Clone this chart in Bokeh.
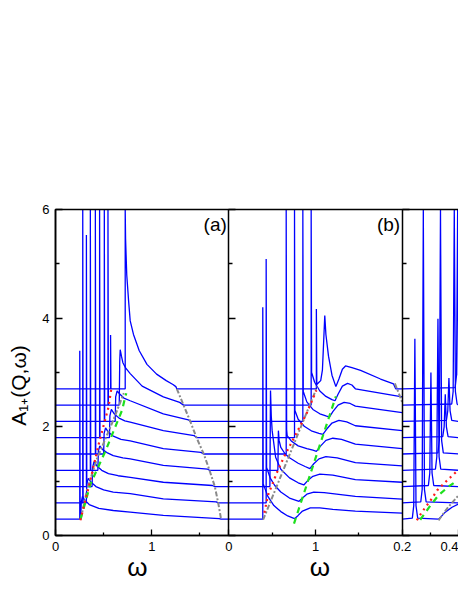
import math
from bokeh.plotting import figure
from bokeh.models import Range1d, FixedTicker, LinearAxis, Label, BoxAnnotation
from bokeh.embed import file_html
from bokeh.resources import INLINE

# ---------------- data (omega, A); spikes run off the top (6) ----------------
PANEL_A_W = [
    [0, 0.252, 0.252, 0.256, 0.262, 0.268, 0.28, 0.30, 0.35, 0.45, 0.6, 0.776, 1.12, 1.70, 1.72, 1.8],
    [0, 0.283, 0.283, 0.287, 0.32, 0.325, 0.34, 0.37, 0.42, 0.5, 0.6, 0.776, 1.12, 1.67, 1.69, 1.8],
    [0, 0.321, 0.321, 0.325, 0.38, 0.385, 0.40, 0.43, 0.48, 0.55, 0.65, 0.776, 1.12, 1.63, 1.655, 1.8],
    [0, 0.362, 0.362, 0.366, 0.44, 0.445, 0.46, 0.49, 0.54, 0.6, 0.7, 0.776, 1.12, 1.58, 1.60, 1.8],
    [0, 0.414, 0.414, 0.418, 0.50, 0.505, 0.52, 0.55, 0.60, 0.68, 0.776, 1.12, 1.51, 1.54, 1.8],
    [0, 0.458, 0.458, 0.462, 0.56, 0.565, 0.58, 0.61, 0.66, 0.72, 0.776, 1.12, 1.44, 1.465, 1.8],
    [0, 0.507, 0.507, 0.511, 0.62, 0.625, 0.64, 0.67, 0.71, 0.776, 1.12, 1.38, 1.40, 1.8],
    [0, 0.545, 0.545, 0.549, 0.662, 0.667, 0.672, 0.685, 0.70, 0.73, 0.776, 0.9, 1.12, 1.29, 1.33, 1.8],
    [0, 0.572, 0.572, 0.576, 0.724, 0.724, 0.728, 0.74, 0.76, 0.776, 0.81, 0.87, 0.95, 1.05, 1.15, 1.22, 1.25, 1.26, 1.8],
]
PANEL_A_V = [
    [0.3, 0.3, 3.4, 0.3, 0.3, 0.62, 0.72, 0.66, 0.57, 0.50, 0.46, 0.43, 0.37, 0.31, 0.3, 0.3],
    [0.6, 0.6, 6.0, 0.6, 0.6, 0.95, 1.05, 0.98, 0.90, 0.84, 0.80, 0.77, 0.675, 0.62, 0.6, 0.6],
    [0.9, 0.9, 5.53, 0.9, 0.9, 1.25, 1.36, 1.28, 1.20, 1.14, 1.10, 1.07, 0.98, 0.92, 0.9, 0.9],
    [1.2, 1.2, 6.0, 1.2, 1.2, 1.55, 1.65, 1.58, 1.52, 1.47, 1.43, 1.41, 1.29, 1.22, 1.2, 1.2],
    [1.5, 1.5, 6.0, 1.5, 1.5, 1.88, 1.98, 1.90, 1.83, 1.77, 1.74, 1.60, 1.53, 1.5, 1.5],
    [1.8, 1.8, 6.0, 1.8, 1.8, 2.2, 2.32, 2.24, 2.16, 2.11, 2.085, 1.93, 1.84, 1.8, 1.8],
    [2.1, 2.1, 6.0, 2.1, 2.1, 2.55, 2.66, 2.60, 2.53, 2.48, 2.24, 2.13, 2.1, 2.1],
    [2.4, 2.4, 6.0, 2.4, 2.4, 3.2, 3.42, 3.3, 3.18, 3.08, 2.98, 2.75, 2.55, 2.45, 2.4, 2.4],
    [2.7, 2.7, 3.69, 2.7, 2.7, 6.0, 5.45, 4.8, 4.3, 3.95, 3.7, 3.4, 3.15, 2.97, 2.85, 2.78, 2.74, 2.7, 2.7],
]
RED_A_W = [0.258, 0.345, 0.45, 0.55, 0.578]
RED_A_V = [0.28, 0.89, 1.69, 2.36, 2.68]
GRAY_A_LOW_W = [0.262, 0.33, 0.43, 0.6, 0.71]
GRAY_A_LOW_V = [0.3, 0.86, 1.41, 2.12, 2.62]
GREEN_A_W = [0.26, 0.364, 0.52, 0.69, 0.735]
GREEN_A_V = [0.3, 0.95, 1.56, 2.3, 2.62]
GRAY_A_UP_W = [1.26, 1.33, 1.40, 1.465, 1.54, 1.60, 1.655, 1.69, 1.72]
GRAY_A_UP_V = [2.7, 2.4, 2.1, 1.8, 1.5, 1.2, 0.9, 0.6, 0.3]

PANEL_B_W = [
    [0, 0.392, 0.392, 0.397, 0.45, 0.52, 0.6, 0.68, 0.758, 0.80, 0.85, 0.94, 1.05, 1.2, 1.46, 2.0],
    [0, 0.431, 0.431, 0.436, 0.48, 0.53, 0.6, 0.7, 0.81, 0.85, 0.9, 0.98, 1.1, 1.46, 2.0],
    [0, 0.474, 0.481, 0.49, 0.50, 0.54, 0.6, 0.7, 0.8, 0.865, 0.91, 0.97, 1.05, 1.2, 1.46, 2.0],
    [0, 0.566, 0.572, 0.58, 0.6, 0.65, 0.7, 0.8, 0.88, 0.935, 0.98, 1.04, 1.12, 1.25, 1.46, 2.0],
    [0, 0.662, 0.662, 0.667, 0.673, 0.72, 0.8, 0.9, 0.97, 1.01, 1.06, 1.12, 1.2, 1.3, 1.46, 2.0],
    [0, 0.758, 0.758, 0.763, 0.8, 0.87, 0.96, 1.04, 1.085, 1.13, 1.19, 1.27, 1.36, 1.46, 2.0],
    [0, 0.854, 0.854, 0.859, 0.9, 0.97, 1.05, 1.12, 1.16, 1.2, 1.26, 1.33, 1.4, 1.46, 2.0],
    [0, 0.95, 0.95, 0.955, 0.99, 1.05, 1.12, 1.19, 1.225, 1.26, 1.31, 1.37, 1.42, 1.46, 2.0],
    [0, 1.01, 1.01, 1.015, 1.04, 1.06, 1.08, 1.095, 1.107, 1.12, 1.15, 1.19, 1.235, 1.27, 1.31, 1.346, 1.42, 1.52, 1.75, 1.9, 1.925, 2.0],
]
PANEL_B_V = [
    [0.3, 0.3, 4.2, 0.95, 0.72, 0.55, 0.44, 0.36, 0.31, 0.37, 0.45, 0.51, 0.51, 0.48, 0.45, 0.41],
    [0.6, 0.6, 5.09, 1.25, 1.05, 0.92, 0.8, 0.69, 0.63, 0.69, 0.76, 0.8, 0.79, 0.72, 0.67],
    [0.9, 0.9, 2.67, 2.2, 1.93, 1.44, 1.22, 1.06, 0.97, 0.93, 1.01, 1.09, 1.13, 1.11, 1.03, 0.98],
    [1.2, 1.2, 1.93, 1.75, 1.62, 1.5, 1.43, 1.33, 1.27, 1.23, 1.32, 1.41, 1.45, 1.43, 1.34, 1.28],
    [1.5, 1.5, 6.0, 1.95, 1.84, 1.74, 1.65, 1.6, 1.57, 1.55, 1.65, 1.75, 1.79, 1.77, 1.68, 1.6],
    [1.8, 1.8, 6.0, 2.3, 2.14, 2.01, 1.92, 1.88, 1.86, 1.96, 2.07, 2.12, 2.09, 2.02, 1.93],
    [2.1, 2.1, 6.0, 2.65, 2.46, 2.32, 2.24, 2.2, 2.18, 2.28, 2.4, 2.45, 2.43, 2.38, 2.26],
    [2.4, 2.4, 6.0, 3.0, 2.82, 2.66, 2.56, 2.5, 2.48, 2.6, 2.75, 2.8, 2.77, 2.7, 2.55],
    [2.7, 2.7, 4.17, 2.78, 2.82, 2.85, 3.05, 3.6, 4.05, 3.7, 3.3, 2.95, 2.74, 2.88, 3.06, 3.12, 3.09, 3.04, 2.88, 2.79, 2.7, 2.7],
]
RED_B_W = [0.41, 0.454, 0.558, 0.635, 0.896, 1.01]
RED_B_V = [0.42, 0.75, 1.17, 1.44, 2.24, 2.67]
GRAY_B_LOW_W = [0.396, 1.02]
GRAY_B_LOW_V = [0.29, 2.74]
GREEN_B_W = [0.752, 1.235]
GREEN_B_V = [0.22, 2.56]
GRAY_B_UP_W = [1.915, 1.96, 2.0]
GRAY_B_UP_V = [2.8, 2.62, 2.45]

PANEL_C_W = [
    [0.2, 0.236, 0.241, 0.245, 0.249, 0.255, 0.329, 0.335, 0.353, 0.377, 0.4],
    [0.2, 0.266, 0.271, 0.275, 0.279, 0.285, 0.4],
    [0.2, 0.293, 0.298, 0.302, 0.306, 0.312, 0.4],
    [0.2, 0.318, 0.323, 0.327, 0.331, 0.337, 0.4],
    [0.2, 0.327, 0.332, 0.336, 0.340, 0.346, 0.4],
    [0.2, 0.344, 0.349, 0.353, 0.357, 0.363, 0.4],
    [0.2, 0.357, 0.362, 0.366, 0.370, 0.376, 0.4],
    [0.2, 0.376, 0.381, 0.385, 0.389, 0.395, 0.4],
    [0.2, 0.388, 0.393, 0.397, 0.4],
]
PANEL_C_V = [
    [0.3, 0.32, 0.55, 3.62, 0.55, 0.32, 0.3, 0.33, 0.43, 0.52, 0.58],
    [0.6, 0.62, 0.85, 6.0, 0.85, 0.62, 0.6],
    [0.9, 0.92, 1.15, 3.0, 1.15, 0.92, 0.9],
    [1.2, 1.22, 1.45, 3.99, 1.45, 1.22, 1.2],
    [1.5, 1.52, 1.75, 6.0, 1.75, 1.52, 1.5],
    [1.8, 1.82, 2.0, 2.6, 2.0, 1.82, 1.8],
    [2.1, 2.12, 2.3, 2.9, 2.3, 2.12, 2.1],
    [2.4, 2.42, 2.65, 6.0, 2.65, 2.42, 2.4],
    [2.7, 2.72, 2.95, 6.0, 2.95],
]
RED_C_W = [0.252, 0.27, 0.30, 0.324, 0.353, 0.377, 0.392]
RED_C_V = [0.28, 0.43, 0.64, 0.83, 0.98, 1.1, 1.17]
GREEN_C_W = [0.264, 0.30, 0.329, 0.367, 0.395]
GREEN_C_V = [0.29, 0.55, 0.74, 0.91, 1.01]
GRAY_C_W = [0.329, 0.36, 0.4]
GRAY_C_V = [0.28, 0.5, 0.74]

Y_TICKS = [0, 2, 4, 6]
Y_MINOR = [1, 3, 5]
X_TICKS = {"a": [0, 1], "b": [0, 1], "c": [0.2, 0.4]}
X_LABELS = {"a": ["0", "1"], "b": ["0", "1"], "c": ["0.2", "0.4"]}
X_MINOR = {"a": [0.5, 1.5], "b": [0.5, 1.5], "c": [0.3]}
PANEL_TAGS = {"a": "(a)", "b": "(b)"}
Y_LABEL = "A\u2081\u208a(Q,\u03c9)"
X_LABEL = "\u03c9"

# ---------------- layout (pixels of the page) ----------------
CANVAS_W, CANVAS_H = 458, 592
FRAME_LEFT, FRAME_TOP, FRAME_BOTTOM = 55.0, 209.0, 535.0   # where omega=0 / A=6 / A=0 sit
FRAME_W = CANVAS_W - FRAME_LEFT                              # 403
PX_PER_A = (FRAME_BOTTOM - FRAME_TOP) / 6.0
SOURCES = {"a": (0.0, 1.8), "b": (0.0, 2.0), "c": (0.2, 0.4)}
TARGETS = {"a": (0.0, 173.3), "b": (173.3, 346.7), "c": (346.7, FRAME_W)}
FONT = "Liberation Sans"
BLUE = "#0000ff"


def to_main(key, w):
    s0, s1 = SOURCES[key]
    t0, t1 = TARGETS[key]
    return t0 + (w - s0) * (t1 - t0) / (s1 - s0)


def page_y(py):
    return (FRAME_BOTTOM - py) / PX_PER_A


p = figure(width=CANVAS_W, height=CANVAS_H,
           x_range=Range1d(-FRAME_LEFT, FRAME_W), y_range=Range1d(page_y(CANVAS_H), page_y(0)),
           output_backend="svg", toolbar_location=None,
           x_axis_location=None, y_axis_location=None,
           min_border_left=0, min_border_right=0, min_border_top=0, min_border_bottom=0)
p.outline_line_color = None
p.grid.visible = False
p.background_fill_color = "white"
p.border_fill_color = "white"

subs = {}
for key in "abc":
    s0, s1 = SOURCES[key]
    t0, t1 = TARGETS[key]
    subs[key] = p.subplot(x_source=Range1d(s0, s1), y_source=Range1d(0, 6),
                          x_target=Range1d(t0, t1), y_target=Range1d(0, 6))

for key, W, V in (("a", PANEL_A_W, PANEL_A_V), ("b", PANEL_B_W, PANEL_B_V), ("c", PANEL_C_W, PANEL_C_V)):
    for ws, vs in zip(W, V):
        subs[key].line(ws, vs, line_color=BLUE, line_width=1.3)

GRAY_STYLE = dict(line_color="#8a8a8a", line_width=2, line_dash="5 2 2 2")
RED_STYLE = dict(line_color="#ff1a1a", line_width=2.2, line_dash="2 4")
GREEN_STYLE = dict(line_color="#1ee01e", line_width=2.2, line_dash="6 5")

subs["a"].line(GRAY_A_LOW_W, GRAY_A_LOW_V, **GRAY_STYLE)
subs["a"].line(GRAY_A_UP_W, GRAY_A_UP_V, **GRAY_STYLE)
subs["a"].line(GREEN_A_W, GREEN_A_V, **GREEN_STYLE)
subs["a"].line(RED_A_W, RED_A_V, **RED_STYLE)
subs["b"].line(GRAY_B_LOW_W, GRAY_B_LOW_V, **GRAY_STYLE)
subs["b"].line(GRAY_B_UP_W, GRAY_B_UP_V, **GRAY_STYLE)
subs["b"].line(GREEN_B_W, GREEN_B_V, **GREEN_STYLE)
subs["b"].line(RED_B_W, RED_B_V, **RED_STYLE)
subs["c"].line(GRAY_C_W, GRAY_C_V, **GRAY_STYLE)
subs["c"].line(GREEN_C_W, GREEN_C_V, **GREEN_STYLE)
subs["c"].line(RED_C_W, RED_C_V, **RED_STYLE)

# panel border (top edge; the right edge lies just past the page)
p.add_layout(BoxAnnotation(left=0, right=FRAME_W + 3, bottom=0, top=6,
                           fill_color=None, fill_alpha=0,
                           line_color="black", line_alpha=1.0, line_width=1.6))

# ---------------- axes ----------------
AX = dict(axis_line_width=1.5, axis_line_color="black", major_tick_line_width=1.3,
          minor_tick_line_width=1.3, major_tick_out=0, minor_tick_out=0)

ya = LinearAxis(fixed_location=0, bounds=(0, 6),
                ticker=FixedTicker(ticks=Y_TICKS, minor_ticks=Y_MINOR),
                major_tick_in=7, minor_tick_in=4, major_label_standoff=6,
                major_label_text_font=FONT, major_label_text_font_size="13px",
                major_label_text_color="black", **AX)
p.add_layout(ya, "left")

for key in "bc":
    ax = LinearAxis(fixed_location=TARGETS[key][0], bounds=(0, 6),
                    ticker=FixedTicker(ticks=Y_TICKS, minor_ticks=Y_MINOR),
                    major_tick_in=7, minor_tick_in=4,
                    major_label_text_font_size="0px", major_label_text_alpha=0,
                    major_label_standoff=0, **AX)
    p.add_layout(ax, "left")

xt, xm, overrides = [], [], {}
for key in "abc":
    for t, lab in zip(X_TICKS[key], X_LABELS[key]):
        m = to_main(key, t)
        xt.append(m)
        overrides[m] = lab
    for t in X_MINOR[key]:
        xm.append(to_main(key, t))
xa = LinearAxis(fixed_location=0, bounds=(0, FRAME_W),
                ticker=FixedTicker(ticks=xt, minor_ticks=xm),
                major_label_overrides=overrides,
                major_tick_in=6, minor_tick_in=3, major_label_standoff=6,
                major_label_text_font=FONT, major_label_text_font_size="13px",
                major_label_text_color="black", **AX)
p.add_layout(xa, "below")

# ---------------- texts ----------------
for key, tag in PANEL_TAGS.items():
    p.add_layout(Label(x=TARGETS[key][1] - 2, y=page_y(213), text=tag,
                       text_align="right", text_baseline="top",
                       text_font=FONT, text_font_size="19px", text_color="black"))

for key, w in (("a", 0.85), ("b", 1.05)):
    p.add_layout(Label(x=to_main(key, w), y=page_y(566), text=X_LABEL,
                       text_align="center", text_baseline="middle",
                       text_font=FONT, text_font_size="26px", text_color="black"))

p.add_layout(Label(x=18 - FRAME_LEFT, y=page_y(385), text=Y_LABEL,
                   angle=math.pi / 2, text_align="center", text_baseline="middle",
                   text_font=FONT, text_font_size="21px", text_color="black"))

open("out.html", "w").write(file_html(p, INLINE))
